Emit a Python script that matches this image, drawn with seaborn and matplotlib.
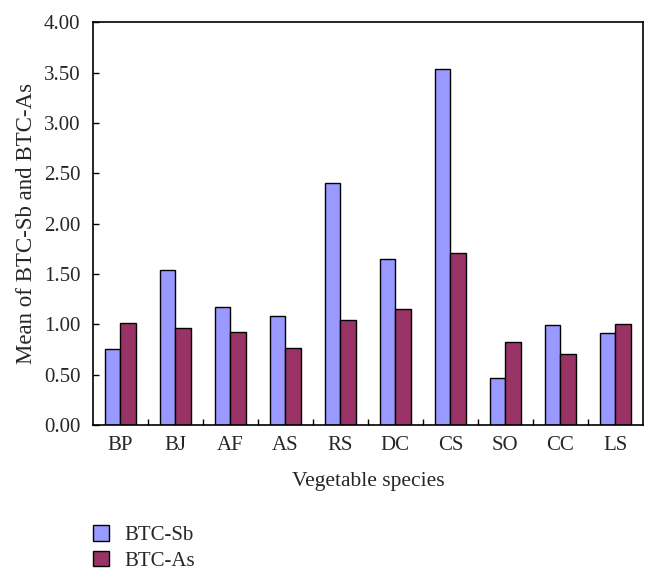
import pandas as pd
import matplotlib.pyplot as plt
import seaborn as sns

species = ['BP', 'BJ', 'AF', 'AS', 'RS', 'DC', 'CS', 'SO', 'CC', 'LS']
btc_sb = [0.75, 1.54, 1.17, 1.08, 2.40, 1.65, 3.53, 0.47, 0.99, 0.91]
btc_as = [1.01, 0.96, 0.92, 0.76, 1.04, 1.15, 1.71, 0.82, 0.71, 1.00]
series = ['BTC-Sb', 'BTC-As']
colors = ['#9999FF', '#993366']

df = pd.DataFrame({'species': species * 2,
                   'value': btc_sb + btc_as,
                   'series': [series[0]] * len(species) + [series[1]] * len(species)})

sns.set_style("ticks")
plt.rcParams['font.family'] = ['Liberation Serif', 'DejaVu Serif']

fig = plt.figure(figsize=(6.58, 5.83), dpi=100)
ax = fig.add_axes([0.141, 0.271, 0.836, 0.691])

sns.barplot(data=df, x='species', y='value', hue='series', order=species,
            hue_order=series, palette=colors, saturation=1, width=0.56, gap=0,
            edgecolor='black', linewidth=1.0, ax=ax)

ax.set_ylim(0, 4.0)
ax.set_xlim(-0.5, len(species) - 0.5)
ax.set_yticks([i * 0.5 for i in range(9)])
ax.set_yticklabels([f'{i * 0.5:.2f}' for i in range(9)], fontsize=15)
ax.set_xticks(range(len(species)))
ax.set_xticklabels(species, fontsize=15)
ax.tick_params(axis='x', length=0, pad=8)
ax.set_xticks([i + 0.5 for i in range(len(species) - 1)], minor=True)
ax.tick_params(axis='x', which='minor', direction='in', length=4, width=1, color='black')
ax.tick_params(axis='y', direction='in', length=4, width=1, color='black', pad=9)
for s in ax.spines.values():
    s.set_linewidth(1.2)
    s.set_color('black')

ax.set_xlabel('Vegetable species', fontsize=15.5, labelpad=12)
ax.set_ylabel('Mean of BTC-Sb and BTC-As', fontsize=16.5, labelpad=5)

handles, labels = ax.get_legend_handles_labels()
ax.legend_.remove()
fig.legend(handles, labels, loc='lower left', bbox_to_anchor=(0.113, -0.011),
           frameon=False, fontsize=15, handlelength=0.75, handleheight=0.75,
           labelspacing=0.26, handletextpad=0.75)

plt.savefig('out.png', dpi=100)
